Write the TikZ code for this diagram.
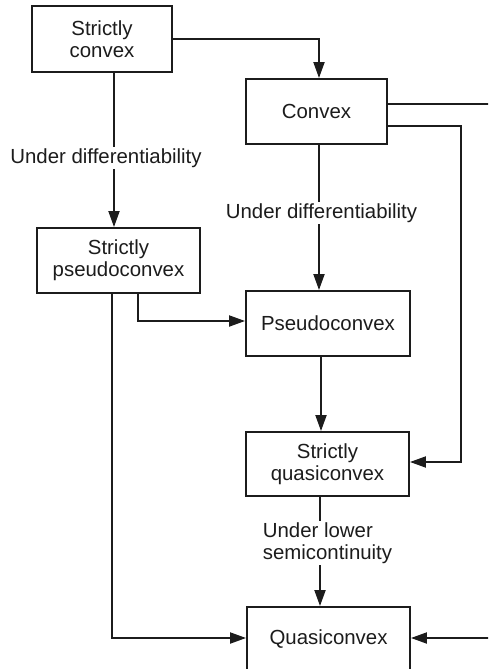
\documentclass[tikz,border=0pt]{standalone}
\usepackage{fontspec}
\setmainfont{Liberation Sans}
\usetikzlibrary{arrows.meta}
\definecolor{ink}{HTML}{1C1C1C}
\begin{document}
\begin{tikzpicture}[x=0.5pt,y=-0.5pt,
  every node/.style={font=\fontsize{10.2}{11}\selectfont, text=ink},
  box/.style={draw=ink, line width=0.95pt, align=center, inner sep=0pt, fill=white},
  lbl/.style={fill=white, inner sep=0.6pt},
  conn/.style={draw=ink, line width=0.95pt},
  arr/.style={conn, -{Triangle[length=8pt,width=5.5pt]}}]
\useasboundingbox (0,0) rectangle (488,669);
\clip (0,0) rectangle (488,669);
% nodes
\node[box, minimum width=70pt, minimum height=33pt] (SC) at (102,39) {Strictly\\convex};
\node[box, minimum width=70.5pt, minimum height=32.5pt] (CV) at (316.5,111.5) {Convex};
\node[box, minimum width=81.5pt, minimum height=32.5pt] (SP) at (118.5,260.5) {Strictly\\pseudoconvex};
\node[box, minimum width=82pt, minimum height=32.5pt] (PC) at (328,323.5) {Pseudoconvex};
\node[box, minimum width=81.5pt, minimum height=32pt] (SQ) at (327.5,464) {Strictly\\quasiconvex};
\node[box, minimum width=81.5pt, minimum height=32.5pt] (Q) at (328.5,639.5) {\raisebox{1pt}{Quasiconvex}};
% helper coordinates
\coordinate (X114) at (114,0);
\coordinate (X112) at (112,0);
\coordinate (X138) at (138,0);
\coordinate (X319) at (319,0);
\coordinate (X321) at (321,0);
\coordinate (X320) at (320,0);
\coordinate (R1) at (492,104);
\coordinate (B1) at (461,126);
\coordinate (R2) at (492,638);
% connectors
\draw[arr] (SC.east) -| ([xshift=1.25pt]CV.north);
\draw[conn] (CV.east |- R1) -- (R1);
\draw[arr] (CV.east |- B1) -- (B1) |- ([yshift=1pt]SQ.east);
\draw[arr] (SC.south -| X114) -- (SP.north -| X114);
\draw[arr] (CV.south -| X319) -- (PC.north -| X319);
\draw[arr] (SP.south -| X138) |- ([yshift=1.25pt]PC.west);
\draw[arr] (SP.south -| X112) |- ([yshift=0.75pt]Q.west);
\draw[arr] (PC.south -| X321) -- (SQ.north -| X321);
\draw[arr] (SQ.south -| X320) -- (Q.north -| X320);
\draw[arr] (R2) -- (Q.east |- R2);
% labels
\node[lbl] (L1) at (106,158) {Under differentiability};
\node[lbl] (L2) at (321.5,213) {Under differentiability};
\node[lbl, align=left] (L3) at (327.5,543) {Under lower\\semicontinuity};
\end{tikzpicture}
\end{document}
